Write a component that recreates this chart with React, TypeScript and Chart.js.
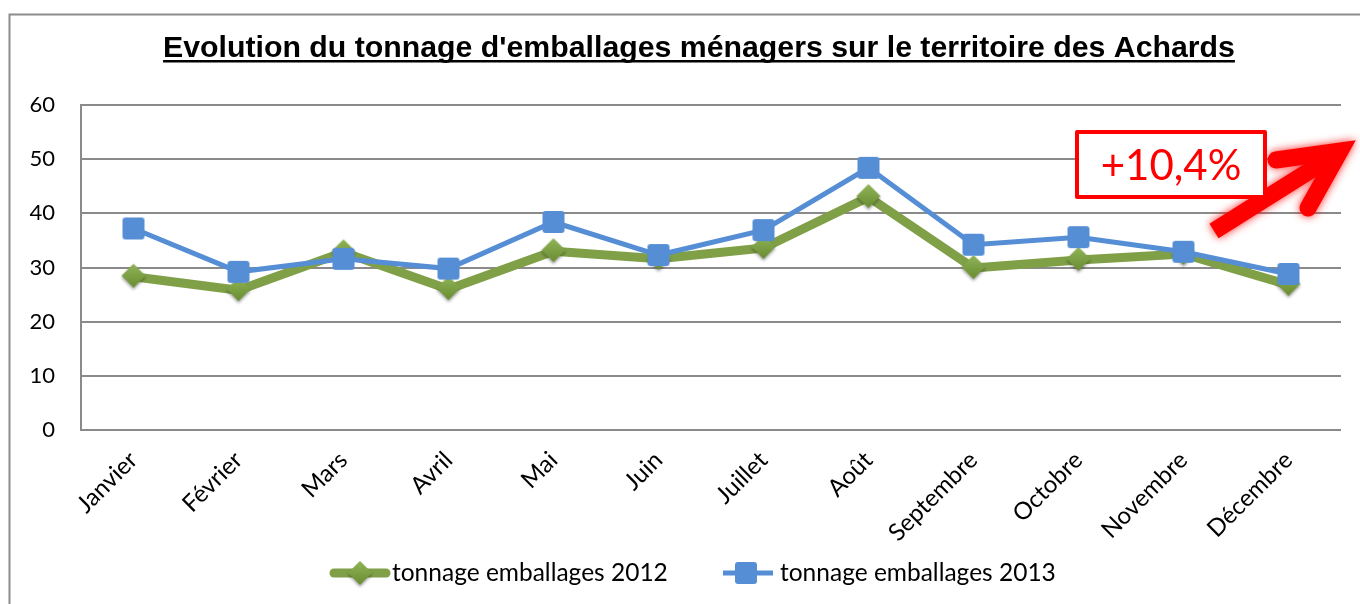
import React, { useEffect, useRef } from "react";
import { Chart, registerables } from "chart.js";

Chart.register(...registerables);

const months = ["Janvier", "Février", "Mars", "Avril", "Mai", "Juin", "Juillet", "Août", "Septembre", "Octobre", "Novembre", "Décembre"];
const tonnage2012 = [28.3, 25.8, 32.8, 26.0, 33.0, 31.6, 33.6, 43.0, 29.9, 31.4, 32.5, 26.8];
const tonnage2013 = [37.2, 29.2, 31.6, 29.8, 38.4, 32.3, 36.9, 48.4, 34.2, 35.6, 32.9, 28.8];
const yTicks = [0, 10, 20, 30, 40, 50, 60];
const titleText = "Evolution du tonnage d'emballages ménagers sur le territoire des Achards";
const seriesLabels = ["tonnage emballages 2012", "tonnage emballages 2013"];
const growthLabel = "+10,4%";

const GREEN = "#80A048";
const BLUE = "#558ED5";
const GRID = "#8a8a8a";
const FONT = "Lato, 'Noto Sans', sans-serif";

function makeDiamond(): HTMLCanvasElement {
  const c = document.createElement("canvas");
  c.width = 34;
  c.height = 34;
  const ctx = c.getContext("2d")!;
  const cx = 17, cy = 16, r = 12;
  ctx.save();
  ctx.shadowColor = "rgba(0,0,0,0.35)";
  ctx.shadowBlur = 3;
  ctx.shadowOffsetX = 0;
  ctx.shadowOffsetY = 2;
  const g = ctx.createLinearGradient(0, cy - r, 0, cy + r);
  g.addColorStop(0, "#8fb456");
  g.addColorStop(1, "#6a8c32");
  ctx.fillStyle = g;
  ctx.beginPath();
  ctx.moveTo(cx, cy - r);
  ctx.lineTo(cx + r, cy);
  ctx.lineTo(cx, cy + r);
  ctx.lineTo(cx - r, cy);
  ctx.closePath();
  ctx.fill();
  ctx.restore();
  return c;
}

function makeSquare(): HTMLCanvasElement {
  const c = document.createElement("canvas");
  c.width = 24;
  c.height = 24;
  const ctx = c.getContext("2d")!;
  ctx.fillStyle = BLUE;
  ctx.beginPath();
  (ctx as any).roundRect(1, 1, 22, 22, 3);
  ctx.fill();
  return c;
}

export default function App() {
  const ref = useRef<HTMLCanvasElement | null>(null);

  useEffect(() => {
    if (!ref.current) return;
    const diamond = makeDiamond();
    const square = makeSquare();

    const decor = {
      id: "decor",
      beforeDraw(chart: any) {
        const ctx = chart.ctx;
        ctx.save();
        ctx.fillStyle = "#fff";
        ctx.fillRect(0, 0, chart.width, chart.height);
        ctx.strokeStyle = "#8c8c8c";
        ctx.lineWidth = 2;
        ctx.beginPath();
        ctx.moveTo(9.5, chart.height);
        ctx.lineTo(9.5, 14.5);
        ctx.lineTo(chart.width, 14.5);
        ctx.stroke();
        ctx.restore();
      },
      afterDraw(chart: any) {
        const ctx = chart.ctx;
        ctx.save();
        // title, fitted to the reference width
        ctx.font = "bold 25px 'Liberation Sans', Arial, sans-serif";
        const w25 = ctx.measureText(titleText).width;
        const fs = (25 * 1072) / w25;
        ctx.font = `bold ${fs}px 'Liberation Sans', Arial, sans-serif`;
        ctx.fillStyle = "#000";
        ctx.textAlign = "center";
        ctx.textBaseline = "alphabetic";
        const tx = 699, ty = 57;
        ctx.fillText(titleText, tx, ty);
        const tw = ctx.measureText(titleText).width;
        ctx.fillRect(tx - tw / 2, ty + 3, tw, 2.5);

        // legend
        ctx.font = `24.5px ${FONT}`;
        ctx.textAlign = "left";
        ctx.textBaseline = "middle";
        const ly = 573;
        // 2012
        ctx.strokeStyle = GREEN;
        ctx.lineWidth = 9;
        ctx.lineCap = "round";
        ctx.beginPath();
        ctx.moveTo(334, ly);
        ctx.lineTo(386, ly);
        ctx.stroke();
        ctx.drawImage(diamond, 360 - 17, ly - 16);
        ctx.fillStyle = "#000";
        ctx.fillText(seriesLabels[0], 392, ly);
        // 2013
        ctx.strokeStyle = BLUE;
        ctx.lineWidth = 5;
        ctx.lineCap = "butt";
        ctx.beginPath();
        ctx.moveTo(723, ly);
        ctx.lineTo(773, ly);
        ctx.stroke();
        ctx.drawImage(square, 746 - 12, ly - 12);
        ctx.fillText(seriesLabels[1], 780, ly);

        // arrow
        ctx.save();
        ctx.shadowColor = "rgba(255,0,0,0.85)";
        ctx.shadowBlur = 8;
        ctx.strokeStyle = "#ff0000";
        ctx.lineWidth = 17;
        ctx.lineCap = "butt";
        ctx.beginPath();
        ctx.moveTo(1214, 231);
        ctx.lineTo(1330, 158);
        ctx.stroke();
        ctx.lineCap = "round";
        ctx.lineJoin = "miter";
        ctx.beginPath();
        ctx.moveTo(1276, 160);
        ctx.lineTo(1340, 151);
        ctx.lineTo(1308, 208);
        ctx.stroke();
        ctx.restore();

        // growth box
        ctx.fillStyle = "#fff";
        ctx.fillRect(1077, 132, 188, 65);
        ctx.strokeStyle = "#ff0000";
        ctx.lineWidth = 4;
        ctx.lineJoin = "round";
        ctx.strokeRect(1077, 132, 188, 65);
        ctx.fillStyle = "#ff0000";
        ctx.font = `42px ${FONT}`;
        ctx.textAlign = "center";
        ctx.textBaseline = "middle";
        ctx.fillText(growthLabel, 1171, 166);
        ctx.restore();
      },
    };

    const chart = new Chart(ref.current, {
      type: "line",
      data: {
        labels: months,
        datasets: [
          {
            label: seriesLabels[0],
            data: tonnage2012,
            borderColor: GREEN,
            backgroundColor: GREEN,
            borderWidth: 9,
            borderJoinStyle: "round",
            pointStyle: diamond as any,
            tension: 0,
            order: 2,
          },
          {
            label: seriesLabels[1],
            data: tonnage2013,
            borderColor: BLUE,
            backgroundColor: BLUE,
            borderWidth: 5,
            pointStyle: square as any,
            tension: 0,
            order: 1,
          },
        ],
      },
      options: {
        responsive: false,
        animation: false,
        devicePixelRatio: 1,
        layout: { padding: { top: 105, right: 19, bottom: 0, left: 0 } },
        plugins: {
          legend: { display: false },
          title: { display: false },
          tooltip: { enabled: false },
        },
        scales: {
          x: {
            offset: true,
            grid: { display: false },
            border: { display: false },
            ticks: {
              autoSkip: false,
              minRotation: 45,
              maxRotation: 45,
              font: { family: FONT, size: 24 },
              color: "#000",
              padding: 8,
            },
            afterFit: (s: any) => {
              s.height = 174;
            },
          },
          y: {
            min: 0,
            max: 60,
            afterBuildTicks: (s: any) => {
              s.ticks = yTicks.map((v) => ({ value: v }));
            },
            ticks: { font: { family: FONT, size: 22 }, color: "#000", padding: 26 },
            grid: { color: GRID, lineWidth: 2, drawTicks: false },
            border: { color: GRID, width: 2 },
            afterFit: (s: any) => {
              s.width = 81;
            },
          },
        },
      },
      plugins: [decor],
    });
    return () => chart.destroy();
  }, []);

  return (
    <canvas
      ref={ref}
      width={1360}
      height={604}
      style={{ position: "fixed", left: 0, top: 0, display: "block" }}
    />
  );
}
